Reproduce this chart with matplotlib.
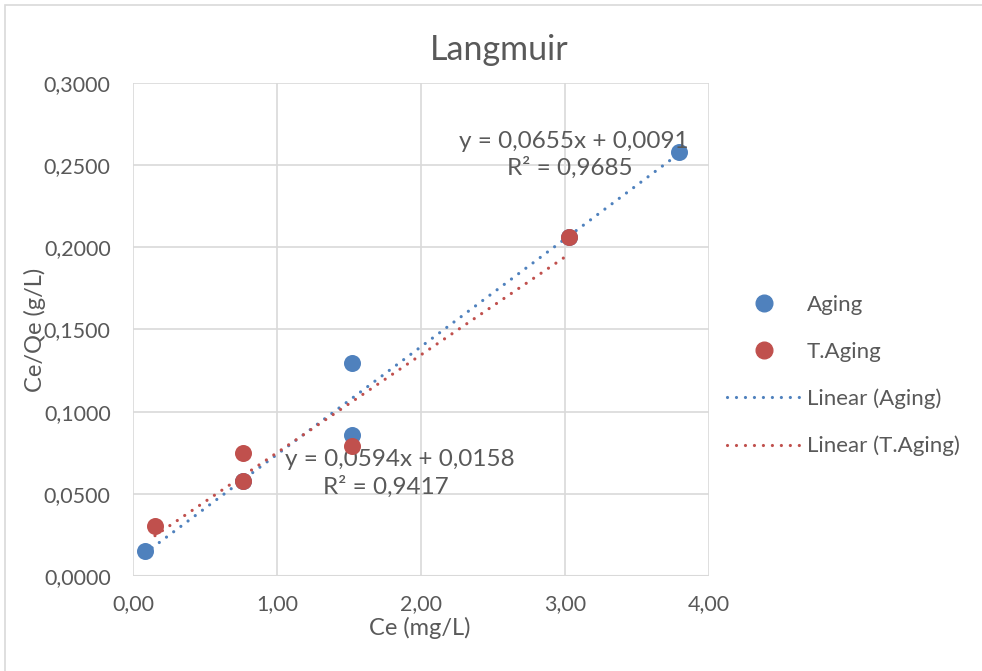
import numpy as np
import matplotlib.pyplot as plt
from matplotlib.lines import Line2D
from matplotlib.patches import Rectangle

plt.rcParams['font.family'] = ['Lato', 'DejaVu Sans']

# data
aging_x = [0.083, 0.764, 1.52, 1.52, 3.03, 3.79]
aging_y = [0.0150, 0.0578, 0.1298, 0.0855, 0.2065, 0.2578]
taging_x = [0.153, 0.764, 0.764, 1.52, 3.03]
taging_y = [0.0304, 0.0746, 0.0578, 0.0790, 0.2065]

aging_eq = ["y = 0,0655x + 0,0091", "R² = 0,9685"]
taging_eq = ["y = 0,0594x + 0,0158", "R² = 0,9417"]

blue = '#4F81BD'
red = '#C0504D'
grey = '#595959'

fig = plt.figure(figsize=(9.82, 6.71), dpi=100)
fig.patches.append(Rectangle((0.005, -0.01), 1.0, 1.003, transform=fig.transFigure,
                             fill=False, edgecolor='#d9d9d9', lw=1.2))
ax = fig.add_axes([0.1354, 0.1416, 0.5866, 0.7347])

dots = (0, (0.01, 2.8))
# trendlines, like excel: from min x to max x
for xs, ys, c in [(aging_x, aging_y, blue), (taging_x, taging_y, red)]:
    k, b = np.polyfit(xs, ys, 1)
    xx = np.array([min(xs), max(xs)])
    ax.plot(xx, k * xx + b, color=c, lw=2.3, linestyle=dots, dash_capstyle='round', zorder=2)

ax.scatter(aging_x, aging_y, s=150, color=blue, zorder=3, linewidths=0)
ax.scatter(taging_x, taging_y, s=150, color=red, zorder=4, linewidths=0)

fs_eq = 17.5
ax.text(3.06, 0.2642, aging_eq[0], ha='center', va='center', fontsize=fs_eq, color=grey)
ax.text(3.03, 0.2484, aging_eq[1], ha='center', va='center', fontsize=fs_eq, color=grey)
ax.text(1.85, 0.0706, taging_eq[0], ha='center', va='center', fontsize=fs_eq, color=grey)
ax.text(1.755, 0.0544, taging_eq[1], ha='center', va='center', fontsize=fs_eq, color=grey)

xt = np.arange(0, 4.01, 1)
yt = np.arange(0, 0.301, 0.05)
ax.set_xlim(0, 4)
ax.set_ylim(0, 0.3)
ax.set_xticks(xt)
ax.set_yticks(yt)
ax.set_yticklabels([("%.4f" % v).replace('.', ',') for v in yt])
ax.set_xticklabels([("%.2f" % v).replace('.', ',') for v in xt])
ax.tick_params(length=0, labelsize=15.5, colors=grey)
ax.tick_params(axis='y', pad=16)
ax.tick_params(axis='x', pad=13)
ax.grid(True, color='#d9d9d9', lw=1.2)
ax.set_axisbelow(True)
for s in ax.spines.values():
    s.set_visible(False)
ax.axhline(0, color='#d9d9d9', lw=1.5, zorder=1)

fig.text(0.508, 0.925, "Langmuir", ha='center', va='center', fontsize=24.5, color=grey)
fig.text(0.427, 0.064, "Ce (mg/L)", ha='center', va='center', fontsize=17, color=grey)
fig.text(0.036, 0.508, "Ce/Qe (g/L)", ha='center', va='center', rotation=90, fontsize=17, color=grey)

handles = [
    Line2D([], [], marker='o', color=blue, ls='none', markersize=12),
    Line2D([], [], marker='o', color=red, ls='none', markersize=12),
    Line2D([], [], color=blue, lw=2.3, ls=dots, dash_capstyle='round'),
    Line2D([], [], color=red, lw=2.3, ls=dots, dash_capstyle='round'),
]
labels = ["Aging", "T.Aging", "Linear (Aging)", "Linear (T.Aging)"]
fig.legend(handles, labels, loc='center left', bbox_to_anchor=(0.7195, 0.440), frameon=False,
           fontsize=16, labelcolor=grey, handlelength=3.4, handletextpad=0.2, labelspacing=1.2)

fig.savefig('out.png', dpi=100)
